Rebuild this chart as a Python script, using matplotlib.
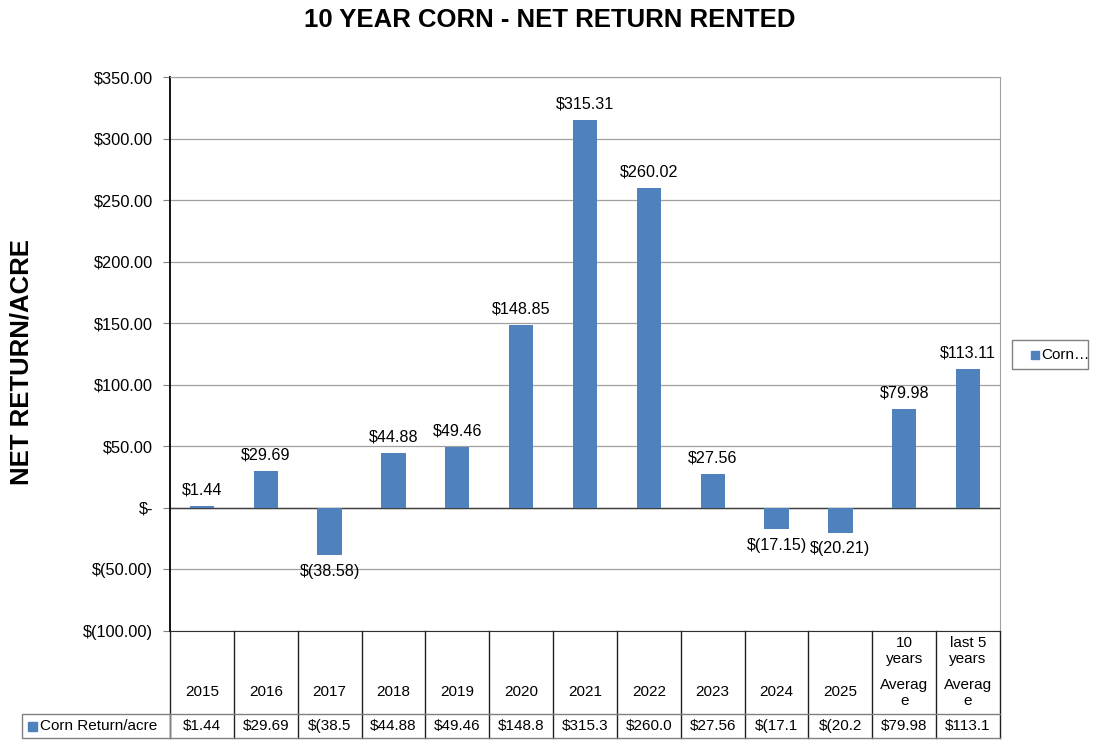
import matplotlib.pyplot as plt
from matplotlib.patches import Rectangle
from matplotlib.transforms import blended_transform_factory

plt.rcParams['font.family'] = ['Liberation Sans', 'DejaVu Sans']

# data
categories = ['2015', '2016', '2017', '2018', '2019', '2020', '2021', '2022',
              '2023', '2024', '2025', '10\nyears\nAverag\ne', 'last 5\nyears\nAverag\ne']
returns = [1.44, 29.69, -38.58, 44.88, 49.46, 148.85, 315.31, 260.02,
           27.56, -17.15, -20.21, 79.98, 113.11]
yticks = [-100, -50, 0, 50, 100, 150, 200, 250, 300, 350]
series_name = 'Corn Return/acre'

blue = '#4F81BD'


def money(v):
    if v == 0:
        return '$-'
    if v < 0:
        return '$(%.2f)' % abs(v)
    return '$%.2f' % v


W, H = 1093, 741
fig = plt.figure(figsize=(W / 100, H / 100), dpi=100)
ax = fig.add_axes([170 / W, 1 - 631 / H, 830 / W, 554 / H])

n = len(categories)
xs = list(range(n))
ax.bar(xs, returns, width=0.38, color=blue, zorder=3)

for x, v in zip(xs, returns):
    if v >= 0:
        ax.text(x, v + 7, money(v), ha='center', va='bottom', fontsize=11.6)
    else:
        ax.text(x, v - 7, money(v), ha='center', va='top', fontsize=11.6)

ax.set_xlim(-0.5, n - 0.5)
ax.set_ylim(-100, 350)
ax.set_yticks(yticks)
ax.set_yticklabels([money(t) for t in yticks], fontsize=11.8)
ax.set_xticks([])
ax.yaxis.grid(True, color='#a0a0a0', linewidth=0.9, zorder=0)
ax.axhline(0, color='#404040', linewidth=1.0, zorder=2)
ax.tick_params(axis='y', length=5, color='#808080', pad=7)
ax.spines['left'].set_color('black')
ax.spines['left'].set_linewidth(1.3)
ax.spines['bottom'].set_color('#303030')
for s in ['top', 'right']:
    ax.spines[s].set_color('#a0a0a0')

# data table below the plot
tr = blended_transform_factory(ax.transData, fig.transFigure)
y_top = 1 - 631 / H
y_mid = 1 - 714 / H
y_bot = 1 - 738 / H
for i in range(n + 1):
    ax.plot([i - 0.5, i - 0.5], [y_top, y_bot], transform=tr, color='#202020',
            linewidth=1.0, clip_on=False)
ax.plot([-0.5, n - 0.5], [y_mid, y_mid], transform=tr, color='#808080',
        linewidth=1.0, clip_on=False)
ax.plot([-0.5, n - 0.5], [y_bot, y_bot], transform=tr, color='#808080',
        linewidth=1.0, clip_on=False)

for x, lab, v in zip(xs, categories, returns):
    parts = lab.split('\n')
    if len(parts) > 2:
        ax.text(x, 1 - 651 / H, '\n'.join(parts[:2]), transform=tr,
                ha='center', va='center', fontsize=11, linespacing=1.15)
        ax.text(x, 1 - 693 / H, '\n'.join(parts[2:]), transform=tr,
                ha='center', va='center', fontsize=11, linespacing=1.15)
    else:
        ax.text(x, 1 - 692 / H, lab, transform=tr, ha='center', va='center',
                fontsize=11)
    ax.text(x, 1 - 726 / H, money(v)[:6], transform=tr, ha='center',
            va='center', fontsize=11)

# left legend cell of the table
fig.add_artist(Rectangle((22 / W, y_bot), 148 / W, y_mid - y_bot,
                         transform=fig.transFigure, fill=False,
                         edgecolor='#808080', linewidth=1.0))
fig.add_artist(Rectangle((28 / W, 1 - 731 / H), 9 / W, 9 / H,
                         transform=fig.transFigure, color=blue))
fig.text(40 / W, 1 - 726 / H, series_name, ha='left', va='center', fontsize=11)

# legend on the right
fig.add_artist(Rectangle((1012 / W, 1 - 369 / H), 76 / W, 29 / H,
                         transform=fig.transFigure, fill=False,
                         edgecolor='#808080', linewidth=1.0))
fig.add_artist(Rectangle((1031 / W, 1 - 359 / H), 8 / W, 8 / H,
                         transform=fig.transFigure, color=blue))
fig.text(1041 / W, 1 - 355 / H, 'Corn…', ha='left', va='center', fontsize=11)

fig.text(550 / W, 1 - 20 / H, '10 YEAR CORN - NET RETURN RENTED', ha='center',
         va='center', fontsize=18.5, fontweight='bold')
fig.text(22 / W, 1 - 362 / H, 'NET RETURN/ACRE', ha='center', va='center',
         rotation=90, fontsize=18.5, fontweight='bold')

fig.savefig('out.png', dpi=100)
